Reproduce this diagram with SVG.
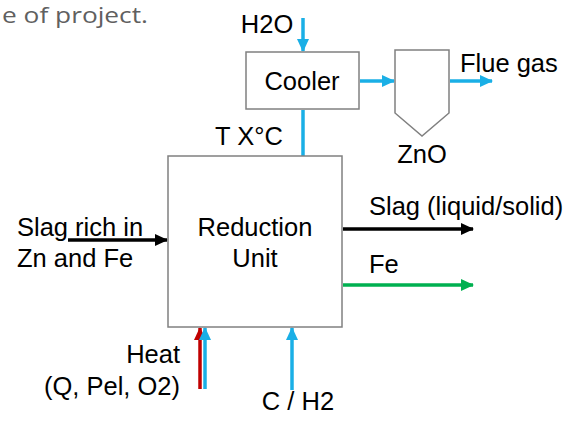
<svg xmlns="http://www.w3.org/2000/svg" width="586" height="421" viewBox="0 0 586 421">
<style>
text{font-family:"Liberation Sans",Arial,sans-serif;font-size:25.5px;fill:#000}
.box{fill:#fff;stroke:#808080;stroke-width:1.5}
.b{stroke:#1AAFE6;stroke-width:3.5;fill:none}
.k{stroke:#000;stroke-width:3.5;fill:none}
.g{stroke:#00B050;stroke-width:3.5;fill:none}
.r{stroke:#C00000;stroke-width:3.5;fill:none}
</style>
<defs>
<marker id="ab" markerUnits="userSpaceOnUse" markerWidth="14" markerHeight="14" refX="12" refY="6" orient="auto"><path d="M0,0L13,6L0,12z" fill="#1AAFE6"/></marker>
<marker id="ak" markerUnits="userSpaceOnUse" markerWidth="14" markerHeight="14" refX="12" refY="6" orient="auto"><path d="M0,0L13,6L0,12z" fill="#000"/></marker>
<marker id="ag" markerUnits="userSpaceOnUse" markerWidth="14" markerHeight="14" refX="12" refY="6" orient="auto"><path d="M0,0L13,6L0,12z" fill="#00B050"/></marker>
<marker id="ar" markerUnits="userSpaceOnUse" markerWidth="14" markerHeight="14" refX="12" refY="6" orient="auto"><path d="M0,0L13,6L0,12z" fill="#C00000"/></marker>
</defs>
<text x="2" y="23" style="font-family:'Open Sans',sans-serif;font-size:21px;fill:#606060" textLength="146" lengthAdjust="spacingAndGlyphs">e of project.</text>
<g id="connectors">
<path class="b" d="M303,18V51" marker-end="url(#ab)"/>
<path class="b" d="M303,110V156"/>
<path class="b" d="M360,81H394" marker-end="url(#ab)"/>
<path class="b" d="M450,81H492" marker-end="url(#ab)"/>
<path class="k" d="M68,240H167" marker-end="url(#ak)"/>
<path class="k" d="M343,229H473" marker-end="url(#ak)"/>
<path class="g" d="M343,285H473" marker-end="url(#ag)"/>
<path class="r" d="M200,389V328" marker-end="url(#ar)"/>
<path class="b" d="M205,389V328" marker-end="url(#ab)"/>
<path class="b" d="M292,390V328" marker-end="url(#ab)"/>
</g>
<g id="cooler">
<rect class="box" x="246" y="52" width="113" height="57"/>
<text x="302" y="90" text-anchor="middle">Cooler</text>
</g>
<g id="hopper">
<path class="box" d="M395,50H449V113L422,136L395,113Z"/>
<text x="422" y="163" text-anchor="middle">ZnO</text>
</g>
<g id="reduction">
<rect class="box" x="168" y="156" width="174" height="171"/>
<text x="255" y="236" text-anchor="middle">Reduction</text>
<text x="255" y="267" text-anchor="middle">Unit</text>
</g>
<g id="labels">
<text x="267" y="33" text-anchor="middle">H2O</text>
<text x="460" y="72">Flue gas</text>
<text x="249" y="145" text-anchor="middle">T X°C</text>
<text x="17" y="236">Slag rich in</text>
<text x="17" y="267">Zn and Fe</text>
<text x="369" y="215">Slag (liquid/solid)</text>
<text x="369" y="273">Fe</text>
<text x="180" y="363" text-anchor="end">Heat</text>
<text x="180" y="395" text-anchor="end">(Q, Pel, O2)</text>
<text x="298" y="410" text-anchor="middle">C / H2</text>
</g>
</svg>
